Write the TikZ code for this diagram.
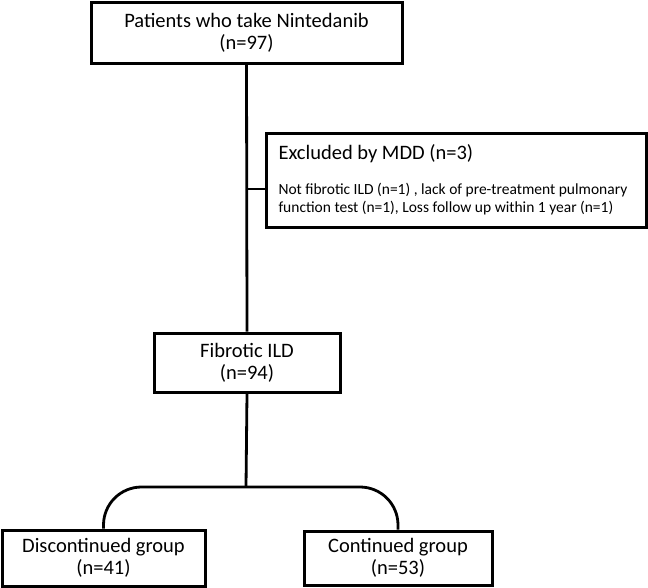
\documentclass[tikz,border=0pt]{standalone}
\usepackage{fontspec}
\setmainfont{Carlito}
\begin{document}
\begin{tikzpicture}[x=1pt,y=-1pt,
  box/.style={draw=black, line width=3pt, fill=white, inner sep=0pt, align=center,
    font=\fontsize{20.5}{22}\selectfont},
  conn/.style={draw=black, line width=2.8pt}]
\useasboundingbox (0,0) rectangle (648,587);
\node[box, minimum width=311pt, minimum height=61pt] (top) at (246.5,32.5) {Patients who take Nintedanib\\(n=97)};
\node[box, minimum width=186pt, minimum height=59pt] (fib) at (247,362.5) {Fibrotic ILD\\(n=94)};
\node[box, minimum width=380pt, minimum height=94pt, align=flush left, text width=356pt, inner xsep=12pt,
  font=\fontsize{15.5}{18}\selectfont] (excl) at (456.5,180)
  {{\fontsize{20.5}{22}\selectfont Excluded by MDD (n=3)}\\[17pt]
   Not fibrotic ILD (n=1) , lack of pre-treatment pulmonary\\
   function test (n=1), Loss follow up within 1 year (n=1)};
\node[box, minimum width=203pt, minimum height=56pt] (disc) at (103.5,558) {Discontinued group\\(n=41)};
\node[box, minimum width=188pt, minimum height=54pt] (cont) at (398,558) {Continued group\\(n=53)};
\coordinate (j) at (246,189);
\coordinate (s) at (246,487);
\draw[conn] (top.south) -- (fib.north);
\draw[conn] (j) -- (j -| excl.west);
\draw[conn] (fib.south) -- (s);
\draw[conn, rounded corners=38pt] (disc.north) |- (s) -| (cont.north);
\end{tikzpicture}
\end{document}
